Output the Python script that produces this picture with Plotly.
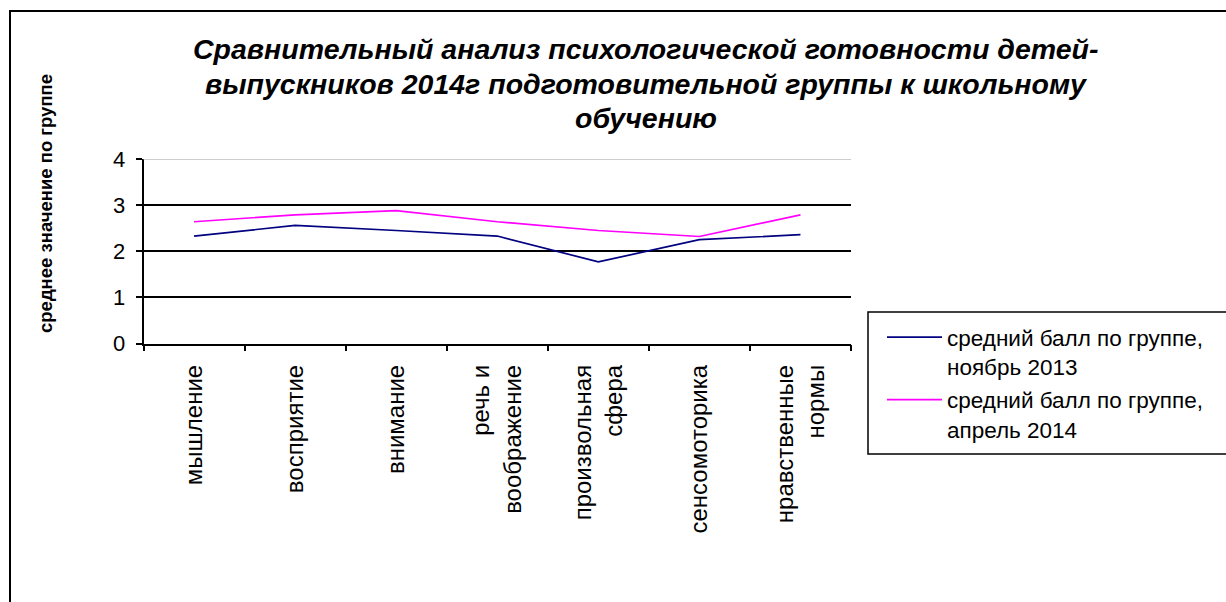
import plotly.graph_objects as go

W, H = 1226, 602

categories = [
    "мышление",
    "восприятие",
    "внимание",
    "речь и<br>воображение",
    "произвольная<br>сфера",
    "сенсомоторика",
    "нравственные<br>нормы",
]
nov_2013 = [2.33, 2.56, 2.45, 2.33, 1.77, 2.25, 2.36]
apr_2014 = [2.64, 2.79, 2.88, 2.64, 2.45, 2.32, 2.79]

series_names = [
    "средний балл по группе,<br>ноябрь 2013",
    "средний балл по группе,<br>апрель 2014",
]
title_lines = [
    "Сравнительный анализ психологической готовности детей-",
    "выпускников 2014г подготовительной группы к школьному",
    "обучению",
]
y_title = "среднее значение по группе"
y_ticks = [0, 1, 2, 3, 4]

FONT = "Liberation Sans, Arial, sans-serif"


def px_x(x):
    return x / W


def px_y(y):
    return 1 - y / H


fig = go.Figure()
fig.add_trace(go.Scatter(
    x=categories, y=nov_2013, mode="lines", name=series_names[0],
    line=dict(color="#000080", width=1.7), legendgroup="a",
))
fig.add_trace(go.Scatter(
    x=categories, y=apr_2014, mode="lines", name=series_names[1],
    line=dict(color="#FF00FF", width=1.7), legendgroup="b",
))

fig.update_layout(
    width=W, height=H, autosize=False,
    margin=dict(l=0, r=0, t=0, b=0, pad=0, autoexpand=False),
    paper_bgcolor="white", plot_bgcolor="white",
    font=dict(family=FONT, color="black"),
    showlegend=True,
    legend=dict(
        x=px_x(882), y=px_y(316), xanchor="left", yanchor="top",
        bgcolor="rgba(0,0,0,0)", borderwidth=0,
        font=dict(size=22.5, family=FONT), valign="top",
        tracegroupgap=1, itemwidth=55,
    ),
    xaxis=dict(
        domain=[px_x(143.5), px_x(851)],
        type="category", range=[-0.5, 6.5], automargin=False,
        showline=True, linecolor="black", linewidth=1.5,
        ticks="outside", ticklen=6, tickwidth=1.5, tickcolor="black",
        tickson="boundaries", tickangle=-90,
        tickfont=dict(size=24, family=FONT),
        showgrid=False, zeroline=False, ticklabelstandoff=10,
    ),
    yaxis=dict(
        domain=[px_y(343.5), px_y(159)],
        range=[0, 4], tickvals=y_ticks, automargin=False,
        showline=True, linecolor="black", linewidth=1.5,
        ticks="outside", ticklen=6, tickwidth=1.5, tickcolor="black",
        tickfont=dict(size=22, family=FONT),
        showgrid=True, gridcolor="black", gridwidth=1.5,
        zeroline=False, ticklabelstandoff=6,
    ),
)

# Light top gridline at the axis maximum
fig.add_shape(type="line", xref="x domain", yref="y",
              x0=0, x1=1, y0=4, y1=4,
              line=dict(color="#BDBDBD", width=1.5), layer="above")

# Outer chart frame (runs past the right and bottom edges)
fig.add_shape(type="rect", xref="paper", yref="paper",
              x0=px_x(10), x1=1.05, y0=-0.05, y1=px_y(11),
              line=dict(color="black", width=2))

# Legend frame
fig.add_shape(type="rect", xref="paper", yref="paper",
              x0=px_x(868), x1=1.05, y0=px_y(454), y1=px_y(312),
              line=dict(color="black", width=1.5))

# Chart title, one annotation per line
for line_text, yc in zip(title_lines, [49, 84, 118]):
    fig.add_annotation(
        text="<b><i>" + line_text + "</i></b>", xref="paper", yref="paper",
        x=px_x(646), y=px_y(yc), xanchor="center", yanchor="middle",
        showarrow=False, align="center",
        font=dict(size=28.5, family=FONT, color="black"),
    )

fig.add_annotation(
    text="<b>" + y_title + "</b>", xref="paper", yref="paper",
    x=px_x(45), y=px_y(204), xanchor="center", yanchor="middle",
    showarrow=False, textangle=-90,
    font=dict(size=18.5, family=FONT, color="black"),
)

fig.write_html("out.html")
